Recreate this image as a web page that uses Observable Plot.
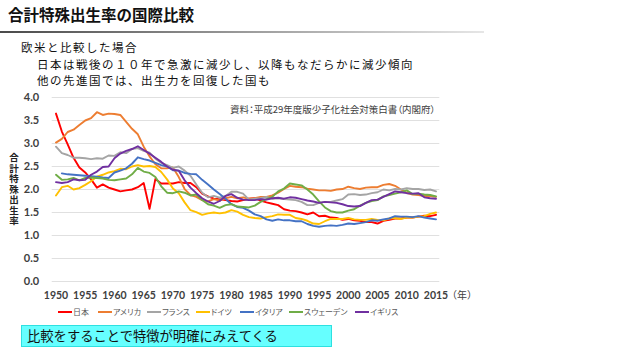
<!DOCTYPE html>
<html><head><meta charset="utf-8">
<script src="https://cdn.jsdelivr.net/npm/d3@7"></script>
<script src="https://cdn.jsdelivr.net/npm/@observablehq/plot@0.6"></script>
<style>
html,body{margin:0;padding:0;background:#fff;}
#page{position:relative;width:640px;height:360px;overflow:hidden;font-family:"Noto Sans CJK JP",sans-serif;}
.abs{position:absolute;white-space:nowrap;}
#title{left:8px;top:5px;font-size:15.5px;font-weight:bold;color:#111;line-height:18px;}
#rule{left:0;top:31px;width:484px;height:2px;background:linear-gradient(to right,#4a4a4a,#9a9a9a 50%,#e6e6e6);}
.sub{font-size:11.5px;letter-spacing:1.5px;color:#111;line-height:12px;}
#ytitle{left:9px;top:153px;writing-mode:vertical-rl;text-orientation:upright;font-size:9.5px;font-weight:bold;line-height:10px;letter-spacing:1px;color:#222;}
#src{left:230px;top:103px;font-size:9.5px;color:#404040;line-height:12px;font-feature-settings:"palt";}
#nen{left:447px;top:289px;font-size:10px;color:#404040;line-height:12px;}
.li{position:absolute;top:306px;display:flex;align-items:center;font-size:8px;color:#595959;line-height:12px;font-feature-settings:"palt";white-space:nowrap;}
.sw{width:14px;height:2px;margin-right:1px;}
#box{left:21px;top:325px;width:304px;height:20px;background:#66ffff;border:1px solid #2ee0e0;font-size:13.3px;line-height:20px;color:#111;padding-left:5px;}
#chart{left:0;top:90px;}
</style></head>
<body><div id="page">
<div id="title" class="abs">合計特殊出生率の国際比較</div>
<div id="rule" class="abs"></div>
<div class="abs sub" style="left:21px;top:41px;">欧米と比較した場合</div>
<div class="abs sub" style="left:37px;top:57.7px;">日本は戦後の１０年で急激に減少し、以降もなだらかに減少傾向</div>
<div class="abs sub" style="left:37px;top:74.4px;">他の先進国では、出生力を回復した国も</div>
<div id="ytitle" class="abs">合計特殊出生率</div>
<div id="chart" class="abs"></div>
<div id="src" class="abs">資料：平成29年度版少子化社会対策白書（内閣府）</div>
<div id="nen" class="abs">（年）</div>
<div id="legend"></div>
<div id="box" class="abs">比較をすることで特徴が明確にみえてくる</div>
</div>
<script>
const countries = ["日本","アメリカ","フランス","ドイツ","イタリア","スウェーデン","イギリス"];
const colors = ["#ff0000","#ed7d31","#a5a5a5","#ffc000","#4472c4","#70ad47","#7030a0"];
const years = [1950,1951,1952,1953,1954,1955,1956,1957,1958,1959,1960,1961,1962,1963,1964,1965,1966,1967,1968,1969,1970,1971,1972,1973,1974,1975,1976,1977,1978,1979,1980,1981,1982,1983,1984,1985,1986,1987,1988,1989,1990,1991,1992,1993,1994,1995,1996,1997,1998,1999,2000,2001,2002,2003,2004,2005,2006,2007,2008,2009,2010,2011,2012,2013,2014,2015];
const xTicks = [1950,1955,1960,1965,1970,1975,1980,1985,1990,1995,2000,2005,2010,2015];
const yTicks = [0,0.5,1,1.5,2,2.5,3,3.5,4];
const japan = [3.65,3.26,2.98,2.69,2.48, 2.37,2.22,2.04,2.11,2.04, 2.00,1.96,1.98,2.00,2.05, 2.14,1.58,2.23,2.13,2.13, 2.13,2.16,2.14,2.14,2.05, 1.91,1.85,1.80,1.79,1.77, 1.75,1.74,1.77,1.80,1.81, 1.76,1.72,1.69,1.66,1.57, 1.54,1.53,1.50,1.46,1.50, 1.42,1.43,1.39,1.38,1.34, 1.36,1.33,1.32,1.29,1.29, 1.26,1.32,1.34,1.37,1.37, 1.39,1.39,1.41,1.43,1.42, 1.45];
const usa = [3.02,3.10,3.25,3.30,3.40, 3.50,3.55,3.68,3.62,3.65, 3.64,3.62,3.47,3.32,3.20, 2.93,2.72,2.55,2.46,2.46, 2.48,2.27,2.01,1.88,1.84, 1.77,1.74,1.79,1.76,1.81, 1.84,1.81,1.83,1.80,1.81, 1.84,1.84,1.87,1.93,2.01, 2.08,2.06,2.05,2.02,2.00, 1.98,1.98,1.97,2.00,2.01, 2.06,2.03,2.01,2.04,2.05, 2.05,2.10,2.12,2.08,2.00, 1.93,1.89,1.88,1.86,1.86, 1.84];
const france = [2.93,2.79,2.75,2.69,2.69, 2.68,2.66,2.68,2.67,2.74, 2.73,2.81,2.79,2.88,2.90, 2.84,2.80,2.67,2.58,2.53, 2.47,2.50,2.41,2.30,2.11, 1.93,1.83,1.86,1.82,1.86, 1.95,1.95,1.91,1.78,1.80, 1.81,1.84,1.80,1.81,1.79, 1.78,1.77,1.73,1.66,1.66, 1.71,1.73,1.73,1.76,1.79, 1.89,1.90,1.88,1.89,1.92, 1.94,2.00,1.98,2.01,2.00, 2.03,2.01,2.01,1.99,2.00, 1.96];
const germany = [1.87,2.05,2.08,2.00,2.03, 2.10,2.18,2.28,2.32,2.37, 2.40,2.45,2.44,2.50,2.53, 2.50,2.51,2.49,2.38,2.22, 2.02,1.92,1.72,1.55,1.51, 1.45,1.48,1.50,1.48,1.50, 1.55,1.52,1.45,1.40,1.38, 1.37,1.40,1.42,1.46,1.45, 1.45,1.38,1.36,1.32,1.26, 1.25,1.31,1.36,1.36,1.36, 1.38,1.35,1.34,1.34,1.36, 1.34,1.33,1.37,1.38,1.36, 1.39,1.39,1.41,1.42,1.47, 1.50];
const italy = [null,2.35,2.33,2.32,2.31, 2.30,2.29,2.28,2.26,2.25, 2.37,2.41,2.46,2.56,2.70, 2.66,2.63,2.58,2.53,2.50, 2.42,2.41,2.36,2.34,2.33, 2.21,2.11,2.00,1.90,1.80, 1.68,1.62,1.60,1.54,1.46, 1.42,1.35,1.32,1.35,1.33, 1.33,1.31,1.31,1.25,1.21, 1.19,1.21,1.22,1.21,1.23, 1.26,1.25,1.27,1.29,1.33, 1.32,1.35,1.37,1.42,1.41, 1.41,1.40,1.42,1.39,1.37, 1.35];
const sweden = [2.32,2.21,2.22,2.25,2.20, 2.25,2.26,2.25,2.24,2.21, 2.20,2.22,2.24,2.33,2.47, 2.39,2.36,2.27,2.07,1.93, 1.92,1.96,1.93,1.87,1.89, 1.77,1.68,1.65,1.60,1.66, 1.68,1.63,1.62,1.61,1.65, 1.73,1.79,1.84,1.96,2.02, 2.13,2.11,2.09,2.00,1.89, 1.74,1.61,1.53,1.50,1.50, 1.54,1.57,1.65,1.71,1.75, 1.77,1.85,1.88,1.91,1.94, 1.98,1.90,1.91,1.89,1.88, 1.85];
const uk = [2.16,2.14,2.16,2.22,2.20, 2.21,2.32,2.39,2.49,2.50, 2.68,2.78,2.84,2.88,2.94, 2.86,2.78,2.69,2.60,2.50, 2.43,2.41,2.20,2.04,1.92, 1.81,1.74,1.69,1.75,1.86, 1.90,1.82,1.78,1.77,1.77, 1.79,1.78,1.81,1.82,1.80, 1.83,1.82,1.79,1.76,1.74, 1.71,1.73,1.72,1.71,1.68, 1.64,1.63,1.64,1.71,1.77, 1.78,1.84,1.90,1.96,1.94, 1.92,1.91,1.92,1.83,1.81, 1.80];

// legend layout (left edge of each swatch, px)
const legendLeft = [58, 98, 147, 196, 240, 289, 355];

const series = [japan, usa, france, germany, italy, sweden, uk];
const rows = [];
series.forEach((vals, i) => vals.forEach((v, j) => rows.push({country: countries[i], year: years[j], value: v})));

const chart = Plot.plot({
  width: 640, height: 220,
  marginLeft: 51.7, marginRight: 200.7, marginTop: 7, marginBottom: 29,
  x: {type: "linear", domain: [1949.35, 2015.65]},
  y: {domain: [0, 4]},
  color: {domain: countries, range: colors},
  style: {fontFamily: "Lato, 'Noto Sans CJK JP', sans-serif", color: "#404040", background: "transparent"},
  marks: [
    Plot.ruleY(yTicks, {stroke: "#e0e0e0", strokeWidth: 1}),
    Plot.axisY(yTicks, {tickSize: 0, tickPadding: 13, tickFormat: d3.format(".1f"), fontSize: 11, fontWeight: "bold", fill: "#404040", label: null}),
    Plot.axisX(xTicks, {tickSize: 0, tickPadding: 10, tickFormat: d => String(d), fontSize: 10.5, fontWeight: "bold", fill: "#404040", label: null}),
    Plot.line(rows, {x: "year", y: "value", z: "country", stroke: "country", strokeWidth: 1.9, defined: d => d.value != null})
  ]
});
document.getElementById("chart").appendChild(chart);

const legend = document.getElementById("legend");
countries.forEach((c, i) => {
  const item = document.createElement("div");
  item.className = "li";
  item.style.left = legendLeft[i] + "px";
  const sw = document.createElement("span");
  sw.className = "sw"; sw.style.background = colors[i];
  const t = document.createElement("span");
  t.textContent = c;
  item.appendChild(sw); item.appendChild(t);
  legend.appendChild(item);
});
</script>
</body></html>
